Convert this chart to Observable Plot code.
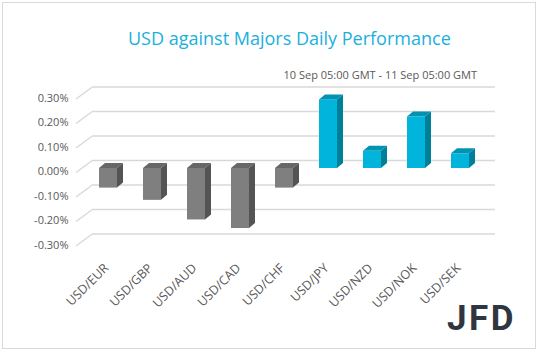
<!DOCTYPE html>
<html>
<head>
<meta charset="utf-8">
<script src="https://cdn.jsdelivr.net/npm/d3@7"></script>
<script src="https://cdn.jsdelivr.net/npm/@observablehq/plot@0.6"></script>
<style>
  html, body { margin: 0; padding: 0; background: #fff; }
  #wrap { position: relative; width: 538px; height: 351px; overflow: hidden; font-family: "Open Sans", sans-serif; }
  #header { position: relative; width: 538px; height: 80px; }
  #title { position: absolute; left: 128px; top: 29px; font-size: 18px; line-height: 18px; color: #1ab0dc; white-space: nowrap; }
  #subtitle { position: absolute; right: 61px; top: 69px; font-size: 11px; line-height: 11px; color: #595959; white-space: nowrap; }
  #logo { position: absolute; left: 447px; top: 299px; font-family: Roboto, "Open Sans", sans-serif; font-weight: 700; font-size: 35px; line-height: 40px; color: #2f3640; letter-spacing: 2.5px; white-space: nowrap; }
  #border { position: absolute; left: 2px; top: 2px; width: 532px; height: 345px; border: 1px solid #d9d9d9; pointer-events: none; }
  svg { display: block; }
</style>
</head>
<body>
<div id="wrap">
  <div id="header">
    <div id="title"></div>
    <div id="subtitle"></div>
  </div>
  <div id="chart"></div>
  <div id="logo"></div>
  <div id="border"></div>
</div>
<script>
const titleText = "USD against Majors Daily Performance";
const subtitleText = "10 Sep 05:00 GMT - 11 Sep 05:00 GMT";
const logoText = "JFD";
const pairs = ["USD/EUR", "USD/GBP", "USD/AUD", "USD/CAD", "USD/CHF", "USD/JPY", "USD/NZD", "USD/NOK", "USD/SEK"];
const changes = [-0.08, -0.13, -0.21, -0.245, -0.08, 0.28, 0.07, 0.21, 0.06];
const yTicks = [-0.3, -0.2, -0.1, 0, 0.1, 0.2, 0.3];

document.getElementById("title").textContent = titleText;
document.getElementById("subtitle").textContent = subtitleText;
document.getElementById("logo").textContent = logoText;

const data = pairs.map((p, i) => ({pair: p, value: changes[i]}));

const BACK = {dx: 10, dy: -8};
const FRONT = {dx: -7, dy: 4.5};
const DEPTH = {dx: 6, dy: -5};
const colors = {
  pos: {front: "#00b4dc", side: "#007f99", top: "#0094b3"},
  neg: {front: "#7f7f7f", side: "#545454", top: "#676767"}
};

function sideGrid(index, scales, values, dims) {
  const y = scales.y;
  const g = d3.create("svg:g").attr("stroke", "#d9d9d9").attr("stroke-width", 1.5).attr("fill", "none");
  const xl = dims.marginLeft;
  for (const t of yTicks) {
    g.append("line")
      .attr("x1", xl + FRONT.dx).attr("y1", y(t) + FRONT.dy)
      .attr("x2", xl + BACK.dx).attr("y2", y(t) + BACK.dy);
  }
  return g.node();
}

function barFaces(index, scales) {
  const x = scales.x, y = scales.y;
  const bw = typeof x.bandwidth === "function" ? x.bandwidth() : x.bandwidth;
  const g = d3.create("svg:g");
  for (const d of data) {
    const c = d.value >= 0 ? colors.pos : colors.neg;
    const x0 = x(d.pair), x1 = x0 + bw;
    const yt = Math.min(y(0), y(d.value)), yb = Math.max(y(0), y(d.value));
    g.append("path")
      .attr("d", `M${x0},${yt}L${x1},${yt}L${x1 + DEPTH.dx},${yt + DEPTH.dy}L${x0 + DEPTH.dx},${yt + DEPTH.dy}Z`)
      .attr("fill", c.top);
    g.append("path")
      .attr("d", `M${x1},${yt}L${x1 + DEPTH.dx},${yt + DEPTH.dy}L${x1 + DEPTH.dx},${yb + DEPTH.dy}L${x1},${yb}Z`)
      .attr("fill", c.side);
  }
  return g.node();
}

const chart = Plot.plot({
  width: 538,
  height: 271,
  marginLeft: 83,
  marginRight: 53,
  marginTop: 14.5,
  marginBottom: 109.5,
  style: {fontFamily: "'Open Sans', sans-serif", background: "transparent", overflow: "visible"},
  x: {type: "band", domain: pairs, paddingInner: 0.6, paddingOuter: 0.3, axis: null},
  y: {domain: [-0.3, 0.3], axis: null},
  marks: [
    Plot.ruleY(yTicks, {dx: BACK.dx, dy: BACK.dy, stroke: "#d9d9d9", strokeWidth: 1.5}),
    sideGrid,
    Plot.barY(data, {x: "pair", y: "value", fill: d => d.value >= 0 ? colors.pos.front : colors.neg.front}),
    barFaces,
    Plot.text(yTicks, {
      y: d => d, text: d => d.toFixed(2) + "%", frameAnchor: "left",
      textAnchor: "end", dx: -15, dy: 3, fill: "#595959", fontSize: 11
    }),
    Plot.text(pairs, {
      x: d => d, text: d => d, frameAnchor: "bottom", dy: 24, dx: -2, rotate: -45,
      textAnchor: "end", lineAnchor: "middle", fill: "#595959", fontSize: 12.5
    })
  ]
});
document.getElementById("chart").appendChild(chart);
</script>
</body>
</html>
